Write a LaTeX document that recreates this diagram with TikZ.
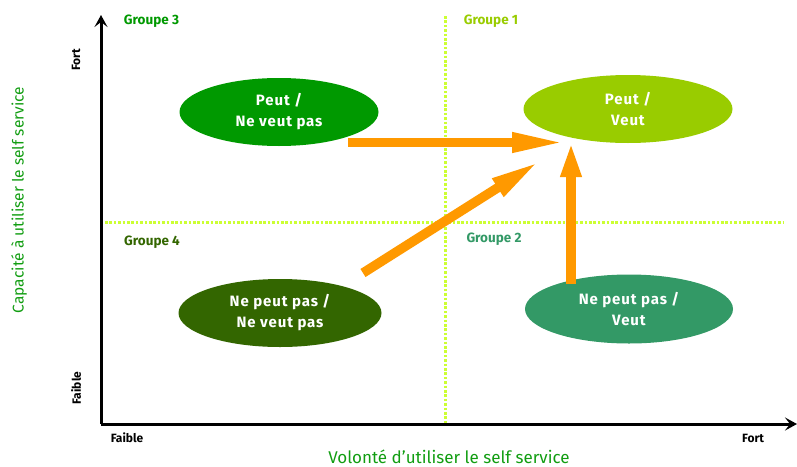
\documentclass[tikz,border=0pt]{standalone}
\usepackage{fontspec}
\setmainfont{Fira Sans}
\usetikzlibrary{shapes.geometric,arrows.meta}
\definecolor{gthree}{HTML}{009900}
\definecolor{gone}{HTML}{99CC00}
\definecolor{gfour}{HTML}{336600}
\definecolor{gtwo}{HTML}{339966}
\definecolor{orng}{HTML}{FF9900}
\definecolor{dotc}{HTML}{CCFF33}
\definecolor{titlec}{HTML}{119D11}
\tikzset{
  blob/.style={ellipse, inner sep=0pt, text=white, align=center,
    font=\fontsize{15}{21}\selectfont\bfseries\addfontfeature{LetterSpace=6}},
  grp/.style={font=\fontsize{13.5}{15}\selectfont\bfseries},
  ax/.style={font=\fontsize{12}{14}\selectfont\bfseries, text=black},
  axtitle/.style={font=\fontsize{17}{20}\selectfont, text=titlec, inner sep=0pt},
  axisline/.style={line width=3pt, -{Stealth[length=12pt,width=13pt,inset=5pt]}},
  dotline/.style={dotc, line width=3pt, dash pattern=on 2.6pt off 1.8pt},
  bigarrow/.style={orng, line width=9.5pt},
}
\begin{document}
\begin{tikzpicture}[x=1pt,y=-1pt]
\useasboundingbox (0,0) rectangle (797,466);
% dotted quadrant lines
\draw[dotline] (105,222) -- (783,222);
\draw[dotline] (445,16) -- (445,423);
% axes
\coordinate (o) at (101,424);
\coordinate (ytop) at (101,15);
\coordinate (xend) at (797,424);
\draw[axisline] (o) -- (ytop);
\draw[axisline] (o) -- (xend);
% ellipses
\node[blob, fill=gthree, minimum width=199pt, minimum height=68pt] (g3) at (279,112) {Peut /\\Ne veut pas};
\node[blob, fill=gone, minimum width=209pt, minimum height=68pt] (g1) at (628,109) {Peut /\\Veut};
\node[blob, fill=gfour, minimum width=203pt, minimum height=68pt] (g4) at (280,313) {Ne peut pas /\\Ne veut pas};
\node[blob, fill=gtwo, minimum width=208pt, minimum height=69pt] (g2) at (629,309) {Ne peut pas /\\Veut};
% group labels
\node[grp, text=gthree] (l3) at (151.5,21) {Groupe 3};
\node[grp, text=gone] (l1) at (491,21) {Groupe 1};
\node[grp, text=gfour] (l4) at (152,242) {Groupe 4};
\node[grp, text=gtwo] (l2) at (494,239) {Groupe 2};
% axis labels
\node[ax, rotate=90] (yfort) at (76,60) {Fort};
\node[ax, rotate=90] (yfaible) at (76,388) {Faible};
\node[ax] (xfaible) at (127,438) {Faible};
\node[ax] (xfort) at (753,438) {Fort};
\node[axtitle, anchor=base] (xtitle) at (449,463) {Volonté d'utiliser le self service};
\node[axtitle, font=\fontsize{15.5}{18}\selectfont, rotate=90] (ytitle) at (19,200) {Capacité à utiliser le self service};
% orange arrows
\coordinate (hs) at (348,142.5);
\coordinate (he) at (567,142.5);
\coordinate (ds) at (363,273);
\coordinate (de) at (540,161);
\coordinate (vs) at (571,284);
\coordinate (ve) at (571,142);
\draw[bigarrow, -{Triangle[length=55pt,width=18pt]}] (hs) -- (he);
\draw[bigarrow, -{Triangle[length=50pt,width=19pt]}] (ds) -- (de);
\draw[bigarrow, -{Triangle[length=35pt,width=19pt]}] (vs) -- (ve);
\end{tikzpicture}
\end{document}
